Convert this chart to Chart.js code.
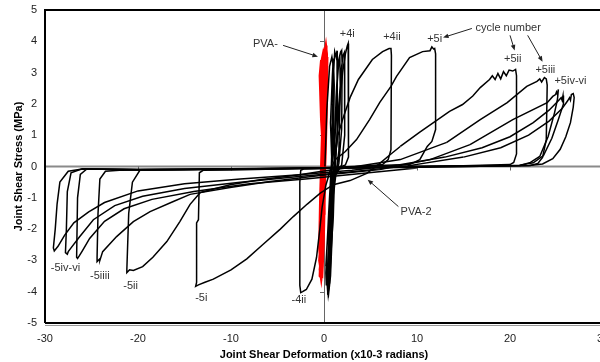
<!DOCTYPE html>
<html><head><meta charset="utf-8">
<script src="https://cdn.jsdelivr.net/npm/chart.js@4"></script>
<style>html,body{margin:0;padding:0;overflow:hidden;background:#fff;}#wrap{width:610px;height:362px;}</style>
</head><body><div id="wrap"><canvas id="c" width="610" height="362"></canvas></div>
<script>
// ---------- data (x = joint shear deformation x10-3 rad, y = joint shear stress MPa) ----------
const xTicks = [-30, -20, -10, 0, 10, 20, 30];
const yTicks = [-5, -4, -3, -2, -1, 0, 1, 2, 3, 4, 5];

// PVA- specimen (red, elastic cycles)
const pvaRed = [
 [0,0],[-0.1,1.5],[-0.2,3.0],[0.0,3.5],[0.2,3.87],[0.3,3.6],[0.3,2.0],[0.15,0.3],[-0.1,-1.5],[-0.35,-3.0],[-0.45,-3.3],[-0.3,-3.6],[-0.15,-3.2],[0,-1.5],[0.1,0],
 [0.0,1.5],[-0.15,3.2],[0.05,3.7],[0.15,3.8],[0.25,3.4],[0.2,1.0],[0,-1.0],[-0.25,-2.8],[-0.4,-3.45],[-0.2,-3.5],[-0.05,-2.5],[0.1,-0.5],
 [0.1,1.0],[-0.05,2.8],[0.1,3.6],[0.25,3.7],[0.2,2.0],[-0.05,0.0],[-0.3,-2.0],[-0.45,-3.1],[-0.25,-3.3],[-0.1,-2.0],[0.05,0],
 [-0.1,2.0],[-0.3,3.3],[-0.1,3.6],[0.1,3.2],[0.0,0.5],[-0.2,-1.8],[-0.5,-3.0],[-0.3,-3.4],[-0.1,-2.2],[0,0],
 [-0.3,1.5],[-0.45,2.9],[-0.3,3.4],[-0.15,3.0],[-0.2,1.0],[-0.4,-1.0],[-0.5,-2.6],[-0.35,-3.2],[-0.2,-2.4],[-0.1,-0.5],
 [0.2,1.2],[0.3,3.0],[0.35,3.5],[0.3,2.2],[0.1,0.2],[-0.15,-1.2],[-0.3,-2.2],[-0.45,-3.5],[-0.3,-3.55],[-0.2,-1.0],[0,0]
];
// PVA-2 cycles 1-3 (black, small)
const cyclesEarly = [
 [0.1,0],[0.3,1.8],[0.6,3.2],[0.85,3.5],[0.95,3.3],[0.95,1.5],[0.8,0.1],[0.5,-1.5],[0.2,-3.4],[0.25,-3.8],[0.45,-3.3],[0.6,-1.5],[0.8,0],
 [0.9,1.5],[1.05,3.1],[1.15,3.67],[1.3,3.5],[1.4,3.7],[1.45,3.3],[1.4,1.0],[1.1,0],[0.7,-2.0],[0.35,-3.8],[0.4,-4.0],[0.6,-3.5],[0.8,-2.0],[1.0,-0.5],
 [1.2,1.0],[1.4,2.6],[1.6,3.4],[1.75,3.6],[1.9,3.7],[1.95,3.3],[1.9,1.2],[1.6,0.1],[1.0,-0.6],[0.6,-2.5],[0.4,-3.9],[0.5,-4.05],[0.7,-3.5],[0.9,-2.0],[1.0,-1.0],
 [1.3,0.5],[1.6,2.0],[1.9,3.2],[2.05,3.55],[2.2,3.65],[2.25,3.2],[2.2,1.0],[1.9,0.05],[1.2,-0.3],[0.7,-1.8],[0.3,-3.6],[0.45,-4.1],[0.65,-3.6],[0.85,-2.2],[1.0,-1.2],
 [1.1,0.3],[1.3,2.2],[1.5,3.3],[1.7,3.55],[1.75,2.5],[1.6,0.5],[1.3,-0.2],[0.9,-1.2],[0.5,-2.8],[0.3,-3.7],[0.5,-3.4],[0.7,-1.8],[0.9,-0.4],
 [0.7,1.4],[0.9,2.9],[1.0,3.45],[1.1,2.6],[1.0,0.6],[0.6,-1.0],[0.35,-2.4],[0.2,-3.2]
];
// cycle +4i / -4i
const cycle4i = [
 [1.0,-0.8],[1.3,0.5],[1.6,1.8],[2.0,3.0],[2.3,3.6],[2.5,3.85],[2.6,3.93],[2.65,3.7],[2.65,1.5],[2.6,0.3],[2.3,0.05],[1.5,-0.05],[1.0,-0.3],
 [0.7,-1.5],[0.4,-3.6],[0.4,-4.1],[0.6,-3.7],[0.8,-2.5],[1.0,-1.6],[1.1,-0.5]
];
// cycle +4ii / -4ii
const cycle4ii = [
 [1.1,-0.5],[1.2,0.3],[1.5,1.0],[2.0,1.5],[2.8,2.2],[3.7,2.78],[5.2,3.42],[6.3,3.67],[7.0,3.77],[7.2,3.77],[7.25,3.55],[7.2,0.54],[6.9,0.22],[6.3,0.06],
 [4,0.0],[1,-0.05],[-1,-0.07],[-2.2,-0.08],[-2.5,-0.12],[-2.6,-0.5],[-2.6,-3.8],[-2.5,-4.03],[-2.3,-4.0],[-1.9,-3.93],[-1.3,-3.6],[-0.8,-2.9],
 [-0.45,-2.0],[-0.2,-1.3],[0.2,-0.6],[0.7,-0.1],[1.2,0.22]
];
// cycle +5i / -5i
const cycle5i = [
 [1.2,0.22],[2.3,0.48],[3.5,0.86],[4.9,1.5],[6.0,2.05],[7.2,2.56],[7.8,2.88],[9.2,3.48],[10.6,3.67],[11.4,3.7],[11.6,3.82],[11.8,3.75],[11.9,3.77],[12.0,3.6],
 [12.0,1.18],[11.6,0.8],[11.1,0.64],[10.3,0.22],[9.2,0.06],[5,0.02],[0,-0.04],[-5,-0.08],[-10,-0.11],[-13.0,-0.12],[-13.4,-0.2],[-13.5,-1.7],[-13.7,-1.8],
 [-13.7,-3.7],[-13.8,-3.83],[-13.5,-3.78],[-12.8,-3.7],[-11.9,-3.6],[-10,-3.3],[-8.3,-2.95],[-6.6,-2.5],[-4.7,-2.0],[-3.3,-1.6],[-1.8,-1.2],[-0.4,-0.85],
 [1.0,-0.58],[2.8,-0.45],[4.6,-0.22],[6.0,0.1],[7.2,0.4],[8.2,0.64]
];
// cycle +5ii / -5ii
const cycle5ii = [
 [8.2,0.64],[10.3,1.1],[12,1.45],[13.5,1.76],[14.9,1.98],[16.0,2.25],[16.8,2.52],[17.8,2.78],[18.1,2.9],[18.4,2.78],[18.7,2.97],[19.0,2.8],[19.3,3.03],
 [19.6,2.9],[19.9,3.08],[20.3,3.05],[20.6,3.1],[20.7,2.9],[20.7,0.4],[20.4,0.13],[20,0.06],[15,0.02],[5,-0.02],[-5,-0.06],[-15,-0.1],[-19.8,-0.12],
 [-20.6,-0.5],[-21.0,-1.5],[-21.2,-3.3],[-21.2,-3.39],[-20.9,-3.3],[-20.5,-3.32],[-19.5,-3.2],[-18.4,-2.9],[-16.9,-2.4],[-15.5,-1.76],[-14.4,-1.21],
 [-13.3,-0.83],[-10.1,-0.58],[-6.9,-0.42],[-2.6,-0.26],[-0.4,-0.16],[2.8,-0.03],[8.2,0.22],[13.2,0.77]
];
// cycle +5iii / -5iii
const cycle5iii = [
 [13.2,0.77],[16.8,1.5],[19.7,2.04],[21.8,2.56],[22.9,2.72],[23.2,2.8],[23.4,2.7],[23.7,2.84],[23.9,2.8],[24.0,2.6],[23.9,0.86],[23.5,0.29],[23.0,0.1],
 [22.2,0.03],[15,0.0],[5,-0.03],[-5,-0.07],[-15,-0.1],[-22,-0.12],[-23.5,-0.15],[-24.1,-0.4],[-24.3,-1.5],[-24.4,-2.9],[-24.4,-3.04],[-24.1,-2.95],
 [-24.1,-3.0],[-23.8,-2.72],[-22.3,-2.24],[-20.5,-1.76],[-18.7,-1.44],[-16.2,-1.12],[-14.4,-0.89],[-10.1,-0.67],[-5.8,-0.48],[-0.4,-0.29],[6,-0.1],
 [11.4,0.22],[15.7,0.7]
];
// cycles +5iv..vi / -5iv..vi
const cycle5iv = [
 [15.7,0.7],[20.3,1.5],[24.0,2.04],[24.6,2.24],[24.9,2.3],[25.0,2.38],[25.1,2.3],[25.2,2.46],[25.1,2.14],[24.8,1.73],[24.1,0.96],[23.2,0.32],[22.2,0.13],
 [21.1,0.03],[10,0],[0,-0.05],[-10,-0.08],[-20,-0.1],[-26,-0.08],[-27.5,-0.15],[-28.4,-0.5],[-28.7,-1.2],[-28.9,-2.0],[-29.1,-2.6],[-29.0,-2.7],
 [-28.6,-2.55],[-27.9,-2.2],[-26.9,-1.8],[-25.3,-1.45],[-23.6,-1.15],[-20,-0.78],[-15,-0.55],[-9,-0.4],[-3,-0.27],[3,-0.12],[8,0.05],[13,0.3]
];
const cycle5v = [
 [13,0.3],[17,0.6],[20,0.95],[22.5,1.4],[24.2,1.8],[25.2,2.1],[25.5,2.2],[25.6,2.12],[25.7,2.27],[25.8,2.2],[25.7,2.0],[25.2,1.5],[24.5,0.9],
 [23.6,0.35],[22.5,0.12],[21,0.04],[10,0],[0,-0.04],[-10,-0.07],[-20,-0.09],[-26,-0.07],[-27.2,-0.2],[-27.6,-0.8],[-27.7,-2.0],[-27.8,-2.75],
 [-27.6,-2.8],[-27.5,-2.72],[-27.2,-2.6],[-26.3,-2.25],[-24.8,-1.7],[-22.5,-1.25],[-19.5,-0.95],[-15,-0.7],[-9,-0.5],[-3,-0.33],[3,-0.17],[9,0.02],[15,0.3]
];
const cycle5vi = [
 [15,0.3],[19,0.6],[22,1.0],[24.2,1.45],[25.6,1.85],[26.2,2.1],[26.4,2.2],[26.5,2.12],[26.6,2.3],[26.8,2.33],[26.9,2.2],[26.8,1.9],[26.5,1.4],
 [26.0,0.95],[25.4,0.55],[24.6,0.25],[23.5,0.08],[22,0.03],[10,-0.02],[0,-0.06],[-10,-0.08],[-20,-0.1],[-25.5,-0.08],[-26.2,-0.25],[-26.5,-1.0],
 [-26.6,-2.9],[-26.5,-2.94],[-26.3,-2.85],[-26.0,-2.7],[-25.2,-2.3],[-23.6,-1.75],[-21.5,-1.35],[-18.5,-1.05],[-14,-0.8],[-8,-0.55],[-2,-0.4],[4,-0.22],[10,-0.05]
];

// annotations (text, data x, data y, align)
const notes = [
 ['PVA-', -6.3, 3.93, 'center'], ['+4i', 2.5, 4.25, 'center'], ['+4ii', 7.3, 4.15, 'center'], ['+5i', 11.9, 4.06, 'center'],
 ['cycle number', 19.8, 4.44, 'center'], ['+5ii', 20.3, 3.45, 'center'], ['+5iii', 23.8, 3.1, 'center'], ['+5iv-vi', 26.5, 2.72, 'center'],
 ['PVA-2', 9.9, -1.44, 'center'], ['-5iv-vi', -27.8, -3.23, 'center'], ['-5iiii', -24.1, -3.51, 'center'], ['-5ii', -20.8, -3.83, 'center'],
 ['-5i', -13.2, -4.19, 'center'], ['-4ii', -2.7, -4.28, 'center']
];
// arrows: [fromX, fromY, toX, toY] in data units
const arrows = [
 [-4.4, 3.87, -0.65, 3.51], [15.9, 4.41, 12.8, 4.12], [20.0, 4.19, 20.5, 3.71], [21.9, 4.19, 23.5, 3.35], [8.0, -1.28, 4.7, -0.42]
];

// ---------- chart ----------
Chart.defaults.font.family = "'Liberation Sans', Arial, sans-serif";
const toPts = a => a.map(p => ({x: p[0], y: p[1]}));
const blackSeries = [cyclesEarly, cycle4i, cycle4ii, cycle5i, cycle5ii, cycle5iii, cycle5iv, cycle5v, cycle5vi];
const datasets = blackSeries.map(s => ({data: toPts(s), borderColor: '#000', borderWidth: 1.5, pointRadius: 0, showLine: true, tension: 0}));
datasets.push({data: toPts(pvaRed), borderColor: '#ff0000', borderWidth: 2.4, pointRadius: 0, showLine: true, tension: 0});

const axesPlugin = {
  id: 'axesPlugin',
  beforeDatasetsDraw(chart) {
    const {ctx, chartArea: a, scales: {x, y}} = chart;
    const x0 = x.getPixelForValue(0), y0 = y.getPixelForValue(0);
    ctx.save();
    ctx.strokeStyle = '#8a8a8a'; ctx.lineWidth = 2;
    ctx.beginPath(); ctx.moveTo(a.left, y0); ctx.lineTo(a.right, y0); ctx.stroke();
    ctx.strokeStyle = '#666'; ctx.lineWidth = 1;
    ctx.beginPath(); ctx.moveTo(x0 + 0.5, a.top); ctx.lineTo(x0 + 0.5, a.bottom); ctx.stroke();
    yTicks.forEach(v => { const py = Math.round(y.getPixelForValue(v)) + 0.5; ctx.beginPath(); ctx.moveTo(x0 - 4, py); ctx.lineTo(x0, py); ctx.stroke(); });
    xTicks.forEach(v => { const px = Math.round(x.getPixelForValue(v)) + 0.5; ctx.beginPath(); ctx.moveTo(px, y0); ctx.lineTo(px, y0 + 4); ctx.stroke(); });
    ctx.restore();
  },
  afterDatasetsDraw(chart) {
    const {ctx, chartArea: a, scales: {x, y}} = chart;
    ctx.save();
    ctx.strokeStyle = '#000'; ctx.lineWidth = 2;
    ctx.beginPath(); ctx.moveTo(a.left, a.bottom); ctx.lineTo(a.left, a.top); ctx.lineTo(a.right, a.top); ctx.stroke();
    ctx.beginPath(); ctx.moveTo(a.left, a.bottom); ctx.lineTo(a.right, a.bottom); ctx.stroke();
    ctx.strokeStyle = '#999'; ctx.lineWidth = 1;
    ctx.beginPath(); ctx.moveTo(a.left, a.bottom + 2.5); ctx.lineTo(a.right, a.bottom + 2.5); ctx.stroke();
    ctx.font = "11px 'Liberation Sans', Arial, sans-serif"; ctx.fillStyle = '#333'; ctx.textBaseline = 'middle';
    notes.forEach(n => { ctx.textAlign = n[3]; ctx.fillText(n[0], x.getPixelForValue(n[1]), y.getPixelForValue(n[2])); });
    ctx.strokeStyle = '#222'; ctx.fillStyle = '#222'; ctx.lineWidth = 1;
    arrows.forEach(r => {
      const x1 = x.getPixelForValue(r[0]), y1 = y.getPixelForValue(r[1]), x2 = x.getPixelForValue(r[2]), y2 = y.getPixelForValue(r[3]);
      const ang = Math.atan2(y2 - y1, x2 - x1), h = 6;
      ctx.beginPath(); ctx.moveTo(x1, y1); ctx.lineTo(x2 - Math.cos(ang) * 3, y2 - Math.sin(ang) * 3); ctx.stroke();
      ctx.beginPath(); ctx.moveTo(x2, y2);
      ctx.lineTo(x2 - h * Math.cos(ang - 0.4), y2 - h * Math.sin(ang - 0.4));
      ctx.lineTo(x2 - h * Math.cos(ang + 0.4), y2 - h * Math.sin(ang + 0.4));
      ctx.closePath(); ctx.fill();
    });
    ctx.restore();
  }
};

new Chart(document.getElementById('c'), {
  type: 'scatter',
  data: {datasets},
  options: {
    responsive: false, animation: false, devicePixelRatio: 1,
    layout: {padding: {top: 10, right: 7, left: 0, bottom: 0}},
    plugins: {legend: {display: false}, tooltip: {enabled: false}},
    scales: {
      x: {
        type: 'linear', min: -30, max: 30,
        afterBuildTicks: s => { s.ticks = xTicks.map(v => ({value: v})); },
        afterFit: s => { s.height = 39; s.paddingLeft = 0; s.paddingRight = 0; },
        grid: {display: false, drawTicks: false},
        border: {display: false},
        ticks: {color: '#222', font: {size: 11}, padding: 9, maxRotation: 0, autoSkip: false},
        title: {display: true, text: 'Joint Shear Deformation (x10-3 radians)', color: '#000', font: {size: 11, weight: 'bold'}, padding: {top: 0, bottom: 0}}
      },
      y: {
        type: 'linear', min: -5, max: 5,
        afterBuildTicks: s => { s.ticks = yTicks.map(v => ({value: v})); },
        afterFit: s => { s.width = 45; s.paddingTop = 0; s.paddingBottom = 0; },
        grid: {display: false, drawTicks: false},
        border: {display: false},
        ticks: {color: '#222', font: {size: 11}, padding: 8, autoSkip: false},
        title: {display: true, text: 'Joint Shear Stress (MPa)', color: '#000', font: {size: 11, weight: 'bold'}, padding: {top: 12, bottom: 0}}
      }
    }
  },
  plugins: [axesPlugin]
});
</script></body></html>
